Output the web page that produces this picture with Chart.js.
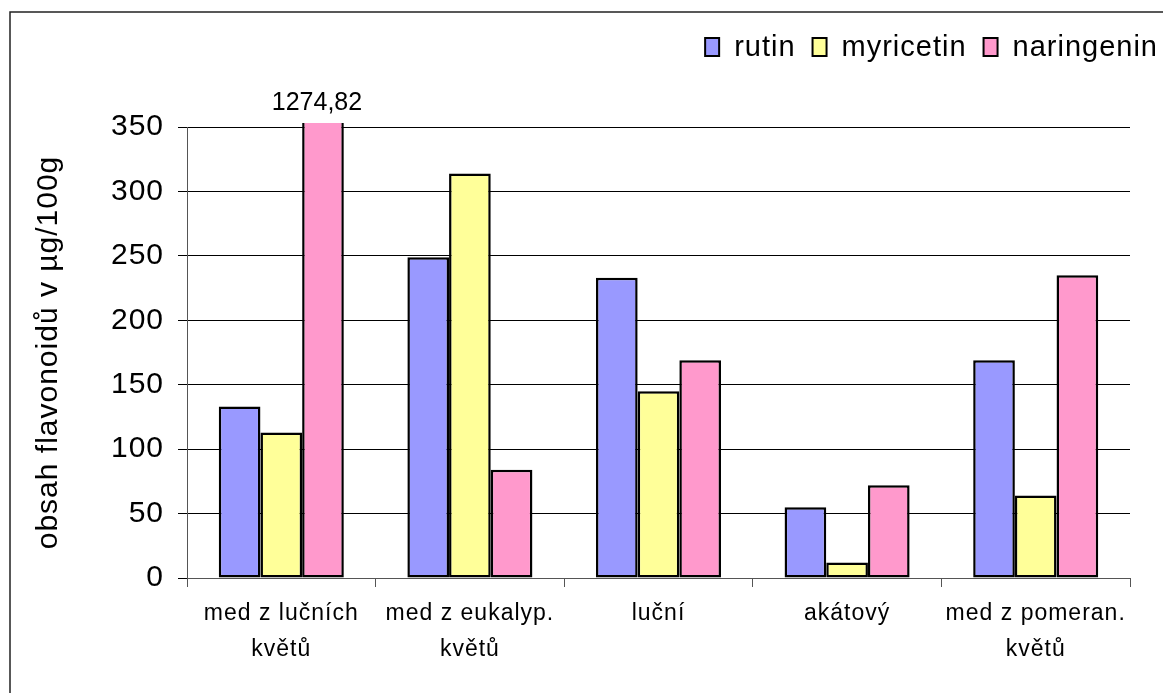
<!DOCTYPE html>
<html>
<head>
<meta charset="utf-8">
<script src="https://cdn.jsdelivr.net/npm/chart.js@4.4.0/dist/chart.umd.min.js"></script>
<style>
  html, body { margin: 0; padding: 0; background: #fff; }
</style>
</head>
<body>
<canvas id="flavChart" width="1163" height="693"></canvas>
<script>
// flavonoid content of honey samples (µg/100g)
const categories = [
  ["med z lučních", "květů"],
  ["med z eukalyp.", "květů"],
  "luční",
  "akátový",
  ["med z pomeran.", "květů"],
];
const rutin = [133, 249, 233, 55, 169];
const myricetin = [113, 314, 145, 12, 64];
const naringenin = [1274.82, 84, 169, 72, 235];
const yTicks = [0, 50, 100, 150, 200, 250, 300, 350];

const FONT = '"Liberation Sans", Arial, sans-serif';
const SPACING = "1px";

Chart.defaults.font.family = FONT;
Chart.defaults.color = "#000";

// white background + outer frame
const frame = {
  id: "frame",
  beforeDraw(chart) {
    const ctx = chart.ctx;
    ctx.save();
    ctx.fillStyle = "#fff";
    ctx.fillRect(0, 0, chart.width, chart.height);
    ctx.strokeStyle = "#222";
    ctx.lineWidth = 1.5;
    ctx.strokeRect(10, 12, chart.width + 20, chart.height + 20);
    ctx.restore();
    ctx.letterSpacing = SPACING;
  },
  beforeLayout(chart) {
    chart.ctx.letterSpacing = SPACING;
  },
};

// values that run past the axis maximum get their number written above the plot
const overflowLabel = {
  id: "overflowLabel",
  afterDatasetsDraw(chart) {
    const ctx = chart.ctx;
    const yMax = chart.scales.y.max;
    chart.data.datasets.forEach((ds, i) => {
      const meta = chart.getDatasetMeta(i);
      ds.data.forEach((v, j) => {
        if (v <= yMax) return;
        const bar = meta.data[j];
        ctx.save();
        ctx.letterSpacing = "0px";
        ctx.font = "25px " + FONT;
        ctx.fillStyle = "#000";
        ctx.textAlign = "center";
        ctx.textBaseline = "alphabetic";
        ctx.fillText(v.toFixed(2).replace(".", ","), bar.x - 6, chart.chartArea.top - 17);
        ctx.restore();
      });
    });
  },
};

// legend in the top right corner, square boxes with a black outline
const boxLegend = {
  id: "boxLegend",
  afterDraw(chart) {
    const ctx = chart.ctx;
    const items = chart.data.datasets;
    const boxW = 14, boxH = 18, gapText = 15, gapItem = 17;
    const cy = 47;
    ctx.save();
    ctx.font = "29px " + FONT;
    ctx.letterSpacing = SPACING;
    ctx.textBaseline = "middle";
    ctx.textAlign = "left";
    const widths = items.map((d) => ctx.measureText(d.label).width);
    let total = widths.reduce((a, w) => a + boxW + gapText + w, 0) + gapItem * (items.length - 1);
    let x = chart.width - 5 - total;
    items.forEach((d, i) => {
      ctx.fillStyle = d.backgroundColor;
      ctx.fillRect(x, cy - boxH / 2, boxW, boxH);
      ctx.strokeStyle = "#000";
      ctx.lineWidth = 2;
      ctx.strokeRect(x, cy - boxH / 2, boxW, boxH);
      ctx.fillStyle = "#000";
      ctx.fillText(d.label, x + boxW + gapText, cy + 1);
      x += boxW + gapText + widths[i] + gapItem;
    });
    ctx.restore();
  },
};

const barStyle = {
  borderColor: "#000",
  borderWidth: 2.5,
  borderSkipped: false,
  categoryPercentage: 0.663,
  barPercentage: 1,
  // let a cut-off bar poke a little above the top gridline
  clip: { left: 0, right: 0, top: 4, bottom: 2 },
};

new Chart(document.getElementById("flavChart"), {
  type: "bar",
  data: {
    labels: categories,
    datasets: [
      { label: "rutin", data: rutin, backgroundColor: "#9999FF", ...barStyle },
      { label: "myricetin", data: myricetin, backgroundColor: "#FFFF99", ...barStyle },
      { label: "naringenin", data: naringenin, backgroundColor: "#FF99CC", ...barStyle },
    ],
  },
  options: {
    responsive: false,
    animation: false,
    layout: { padding: { left: 12, right: 33, top: 127, bottom: 0 } },
    plugins: {
      legend: { display: false },
      tooltip: { enabled: false },
    },
    scales: {
      x: {
        grid: { drawOnChartArea: false, color: "#555", tickLength: 9 },
        border: { color: "#555" },
        ticks: {
          font: { size: 23, lineHeight: 1.55 },
          padding: 9,
          maxRotation: 0,
          autoSkip: false,
        },
        afterFit: (s) => { s.height = 115; },
      },
      y: {
        min: 0,
        max: 350,
        afterBuildTicks: (s) => { s.ticks = yTicks.map((v) => ({ value: v })); },
        grid: { color: "#000", tickLength: 9 },
        border: { color: "#555" },
        ticks: { font: { size: 30 }, padding: 14 },
        title: {
          display: true,
          text: "obsah flavonoidů v µg/100g",
          font: { size: 30 },
          padding: { top: 19, bottom: 0 },
        },
        afterFit: (s) => { s.width = 175; },
      },
    },
  },
  plugins: [frame, overflowLabel, boxLegend],
});
</script>
</body>
</html>
